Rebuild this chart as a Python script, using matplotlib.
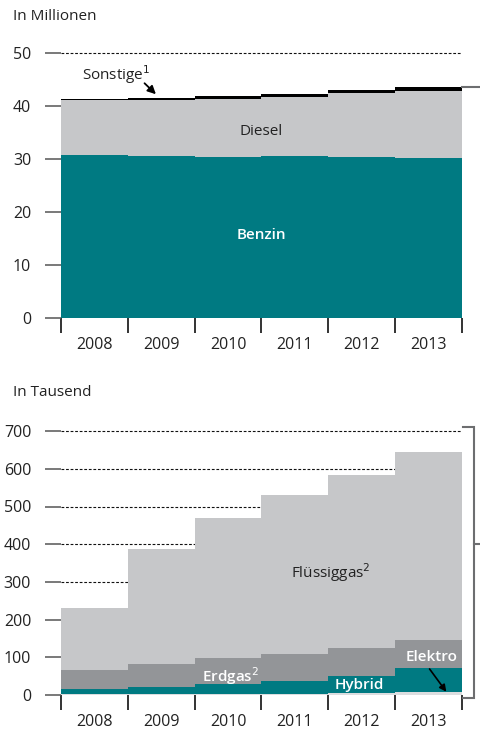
import matplotlib
matplotlib.use("Agg")
import matplotlib.pyplot as plt
import matplotlib.transforms as mtransforms
import numpy as np

plt.rcParams['font.family'] = ['Open Sans', 'DejaVu Sans']

years = ['2008', '2009', '2010', '2011', '2012', '2013']

# Pkw-Bestand in Millionen
benzin = [30.7, 30.5, 30.4, 30.5, 30.4, 30.2]
diesel = [10.4, 10.6, 10.9, 11.1, 12.0, 12.6]
sonstige = [0.2, 0.4, 0.55, 0.55, 0.6, 0.7]

# Sonstige in Tausend
elektro = [1.4, 1.5, 1.6, 2.3, 4.5, 7.1]
hybrid = [15, 20, 27, 36, 47, 65]
erdgas = [50, 60, 69, 71, 74, 74]
fluessiggas = [164, 307, 372, 421, 457, 499]

TEAL = '#007a82'
LGREY = '#c6c7c9'
DGREY = '#939598'
BRACKET = '#6d6e70'

W, H = 481, 734
fig = plt.figure(figsize=(W / 100, H / 100), dpi=100)

x = np.arange(len(years))


def style_axes(ax, yticks, ymax):
    ax.set_xlim(-0.5, len(years) - 0.5)
    ax.set_ylim(0, ymax)
    for s in ax.spines.values():
        s.set_visible(False)
    ax.set_yticks(yticks)
    ax.set_yticklabels([str(t) for t in yticks], fontsize=11.5, color='#222222')
    ax.tick_params(axis='y', direction='out', length=11.5, width=1.1,
                   color='#555555', pad=10)
    ax.set_xticks(x)
    ax.set_xticklabels(years, fontsize=11.5, color='#222222')
    ax.set_xticks(np.arange(len(years) + 1) - 0.5, minor=True)
    ax.tick_params(axis='x', which='major', length=0, pad=14)
    ax.tick_params(axis='x', which='minor', direction='out', length=11,
                   width=1.2, color='#111111')
    for t in yticks[1:]:
        ax.axhline(t, color='#111111', lw=0.8, ls=(0, (2.5, 1.6)), zorder=0)


def steps(ax, bottom, vals, color, z=2):
    ax.bar(x, vals, width=1.0, bottom=bottom, color=color, lw=0,
           align='center', zorder=z)


# ---- oberes Diagramm ----
ax1 = fig.add_axes([61 / W, 1 - 317.7 / H, 401 / W, 55 * 5.3 / H])
b1 = np.zeros(len(years))
steps(ax1, b1, benzin, TEAL)
b1 = b1 + np.array(benzin)
steps(ax1, b1, diesel, LGREY)
b1 = b1 + np.array(diesel)
steps(ax1, b1, sonstige, '#000000')
b1 = b1 + np.array(sonstige)
style_axes(ax1, [0, 10, 20, 30, 40, 50], 55)

ax1.text(2.5, 15.6, 'Benzin', color='white', fontsize=11,
         fontweight='semibold', ha='center', va='center', zorder=5)
ax1.text(2.5, 35.2, 'Diesel', color='#222222', fontsize=11,
         ha='center', va='center', zorder=5)
ax1.text(0.32, 45.8, 'Sonstige$^{1}$', color='#222222', fontsize=11,
         ha='center', va='center', zorder=5)
ax1.annotate('', xy=(0.95, 41.8), xytext=(0.72, 44.6),
             arrowprops=dict(arrowstyle='-|>', color='black', lw=1.3,
                             mutation_scale=12), zorder=5)

trans1 = mtransforms.blended_transform_factory(ax1.transAxes, ax1.transData)
ax1.plot([1.0, 1.05], [b1[-1], b1[-1]], color=BRACKET, lw=1.5,
         transform=trans1, clip_on=False)

fig.text(13 / W, 1 - 17 / H, 'In Millionen', fontsize=11, color='#222222',
         ha='left', va='center')

# ---- unteres Diagramm ----
ax2 = fig.add_axes([61 / W, 1 - 695 / H, 401 / W, 750 * 0.377 / H])
b2 = np.zeros(len(years))
steps(ax2, b2, elektro, '#dcdddf')
b2 = b2 + np.array(elektro)
steps(ax2, b2, hybrid, TEAL)
b2 = b2 + np.array(hybrid)
steps(ax2, b2, erdgas, DGREY)
b2 = b2 + np.array(erdgas)
steps(ax2, b2, fluessiggas, LGREY)
style_axes(ax2, [0, 100, 200, 300, 400, 500, 600, 700], 750)

ax2.text(3.54, 324, 'Flüssiggas$^{2}$', color='#222222', fontsize=11,
         ha='center', va='center', zorder=5)
ax2.text(2.03, 50, 'Erdgas$^{2}$', color='white', fontsize=11,
         fontweight='semibold', ha='center', va='center', zorder=5)
ax2.text(3.97, 26.5, 'Hybrid', color='white', fontsize=11,
         fontweight='semibold', ha='center', va='center', zorder=5)
ax2.text(5.05, 101, 'Elektro', color='white', fontsize=11,
         fontweight='semibold', ha='center', va='center', zorder=5)
ax2.annotate('', xy=(5.29, 2.6), xytext=(4.99, 75),
             arrowprops=dict(arrowstyle='-|>', color='black', lw=1.2,
                             mutation_scale=10), zorder=5)

trans2 = mtransforms.blended_transform_factory(ax2.transAxes, ax2.transData)
xa, xb, xc = 1.0025, 1.031, 1.05
ax2.plot([xa, xb, xb, xa], [711, 711, -8, -8], color=BRACKET, lw=1.5,
         transform=trans2, clip_on=False, solid_joinstyle='miter')
ax2.plot([xb, xc], [400, 400], color=BRACKET, lw=1.5,
         transform=trans2, clip_on=False)

fig.text(13 / W, 1 - 393 / H, 'In Tausend', fontsize=11, color='#222222',
         ha='left', va='center')

fig.savefig('out.png', dpi=100)
